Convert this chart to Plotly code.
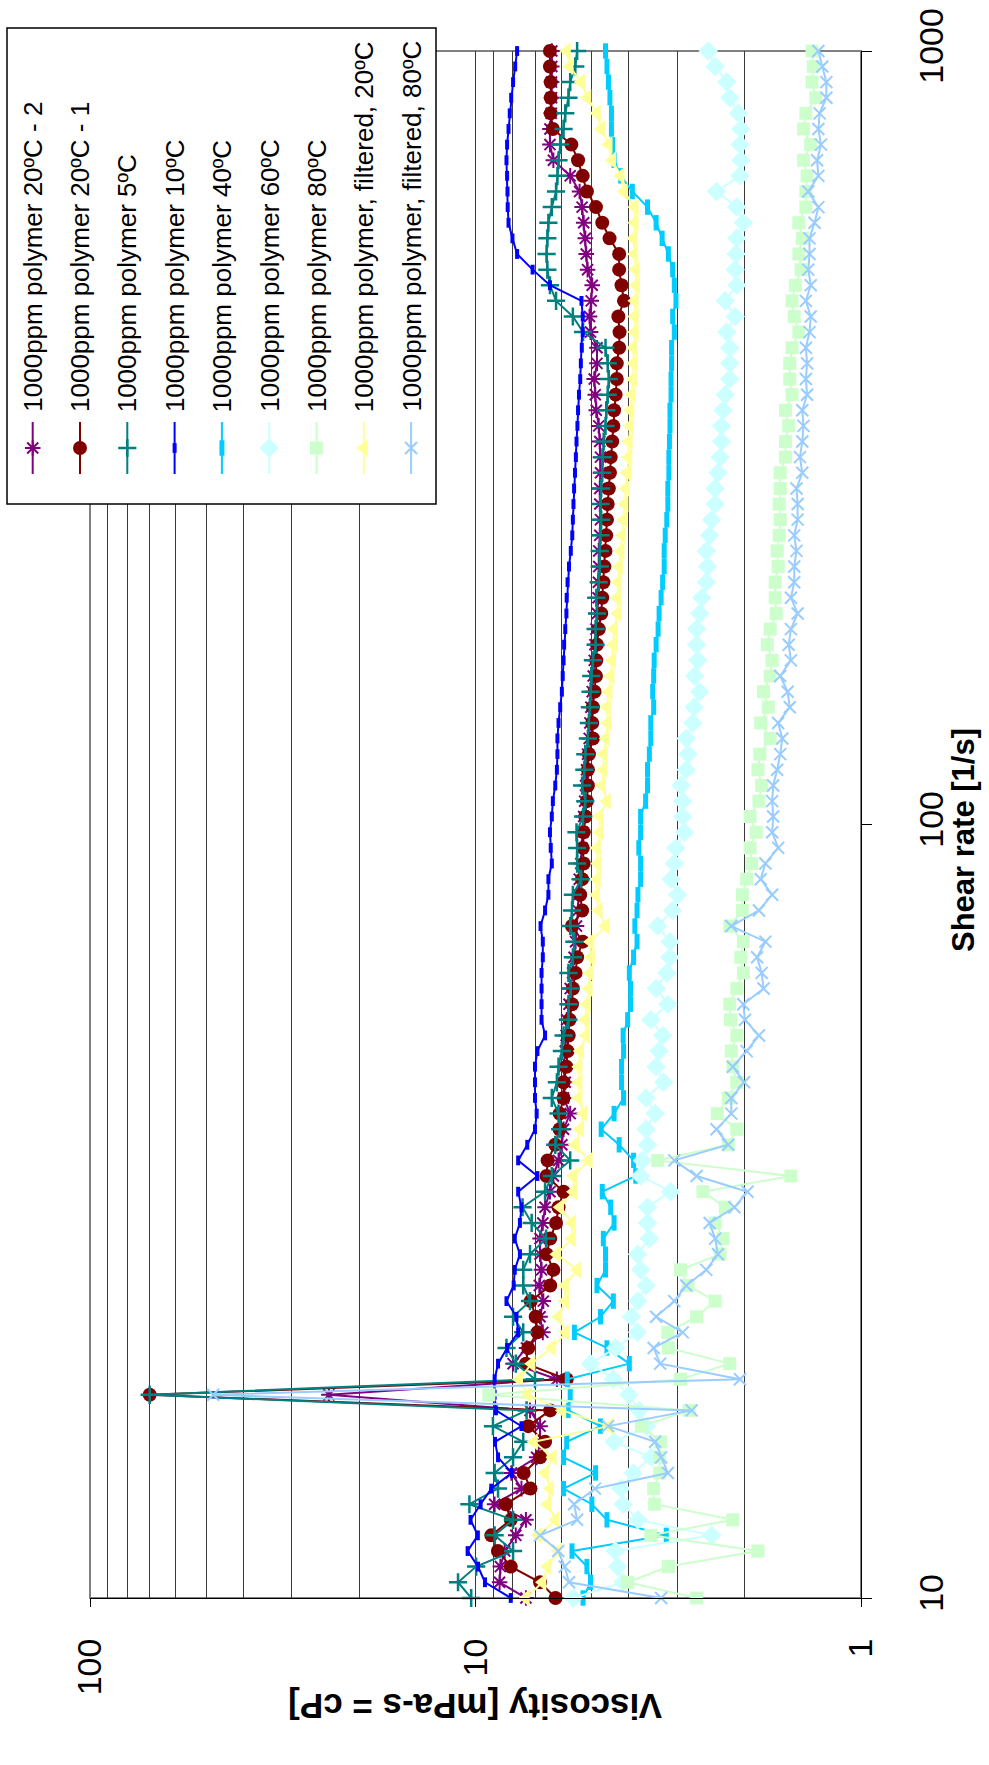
import plotly.graph_objects as go

# Shear rate steps of the rheometer sweep [1/s]
shear_rate = [
    10.0, 10.48, 10.98, 11.5, 12.05, 12.62, 13.22, 13.85, 14.51, 15.2,
    15.92, 16.68, 17.48, 18.31, 19.18, 20.09, 21.05, 22.05, 23.1, 24.2,
    25.35, 26.56, 27.83, 29.15, 30.54, 32.0, 33.52, 35.12, 36.79, 38.54,
    40.37, 42.29, 44.31, 46.42, 48.63, 50.94, 53.37, 55.91, 58.57, 61.36,
    64.29, 67.35, 70.56, 73.91, 77.43, 81.12, 84.98, 89.03, 93.27, 97.72,
    102.4, 107.2, 112.3, 117.7, 123.3, 129.2, 135.3, 141.8, 148.5, 155.6,
    163.0, 170.8, 178.9, 187.4, 196.4, 205.7, 215.5, 225.8, 236.5, 247.8,
    259.6, 271.9, 284.9, 298.5, 312.7, 327.6, 343.2, 359.5, 376.6, 394.6,
    413.4, 433.1, 453.7, 475.3, 497.9, 521.6, 546.5, 572.5, 599.7, 628.3,
    658.2, 689.6, 722.4, 756.8, 792.9, 830.6, 870.2, 911.6, 955.0, 1000.0,
]

# Viscosity [mPa-s] for each sample
visc_20C_2 = [
    7.4, 8.66, 8.62, 8.4, 7.86, 7.4, 8.92, 7.6, 8.07, 6.94,
    6.8, 6.8, 7.22, 24.0, 6.15, 7.99, 7.37, 6.69, 6.8, 6.67,
    6.83, 6.74, 6.8, 6.8, 6.69, 6.6, 6.41, 6.28, 6.09, 5.97,
    5.91, 5.68, 5.91, 5.85, 5.9, 5.85, 5.82, 5.8, 5.72, 5.68,
    5.6, 5.55, 5.5, 5.47, 5.42, 5.4, 5.38, 5.33, 5.3, 5.28,
    5.24, 5.21, 5.18, 5.15, 5.12, 5.07, 5.05, 5.02, 4.98, 4.95,
    4.92, 4.9, 4.87, 4.83, 4.81, 4.8, 4.79, 4.79, 4.76, 4.74,
    4.76, 4.76, 4.74, 4.74, 4.76, 4.79, 4.86, 4.89, 4.92, 4.84,
    4.84, 5.03, 5.06, 5.01, 4.98, 5.12, 5.16, 5.19, 5.24, 5.29,
    5.37, 5.68, 6.28, 6.41, 6.41, 6.36, 6.35, 6.35, 6.34, 6.34,
]
visc_20C_1 = [
    6.2, 6.8, 8.1, 8.75, 9.1, 8.1, 8.35, 7.2, 7.5, 6.8,
    6.6, 7.3, 6.4, 70.0, 5.8, 7.4, 7.3, 6.91, 6.98, 7.19,
    6.4, 6.28, 6.54, 6.4, 6.18, 6.09, 5.91, 6.54, 6.5, 6.21,
    6.05, 6.05, 5.91, 5.91, 5.81, 5.77, 5.73, 5.7, 5.62, 5.59,
    5.5, 5.45, 5.27, 5.62, 5.29, 5.35, 5.29, 5.24, 5.27, 5.24,
    5.19, 5.14, 5.11, 5.11, 5.08, 4.96, 4.98, 4.96, 4.91, 4.87,
    4.86, 4.84, 4.79, 4.72, 4.69, 4.66, 4.63, 4.6, 4.58, 4.56,
    4.54, 4.51, 4.48, 4.46, 4.42, 4.39, 4.37, 4.33, 4.3, 4.3,
    4.24, 4.23, 4.26, 4.12, 4.18, 4.24, 4.24, 4.49, 4.69, 4.87,
    5.14, 5.27, 5.42, 5.64, 6.3, 6.38, 6.38, 6.38, 6.41, 6.41,
]
visc_5C = [
    10.26, 11.1, 9.96, 7.99, 8.92, 7.99, 10.37, 8.74, 8.92, 7.99,
    7.52, 9.01, 7.37, 70.0, 7.01, 7.86, 8.31, 7.52, 7.99, 7.22,
    7.52, 7.52, 7.22, 6.56, 7.15, 7.55, 6.6, 6.34, 5.68, 6.21,
    6.03, 6.09, 6.34, 6.15, 6.09, 5.97, 5.91, 5.74, 5.74, 5.66,
    5.74, 5.59, 5.54, 5.68, 5.62, 5.59, 5.32, 5.45, 5.45, 5.47,
    5.26, 5.19, 5.29, 5.22, 5.19, 5.11, 5.08, 5.05, 5.03, 5.01,
    4.96, 4.88, 4.88, 4.84, 4.86, 4.79, 4.76, 4.76, 4.74, 4.72,
    4.74, 4.72, 4.69, 4.68, 4.65, 4.6, 4.58, 4.54, 4.51, 4.54,
    4.6, 5.26, 5.59, 6.18, 6.41, 6.51, 6.54, 6.51, 6.47, 6.34,
    6.18, 6.13, 6.09, 6.03, 5.91, 5.85, 5.74, 5.68, 5.51, 5.45,
]
visc_10C = [
    8.1, 9.45, 9.85, 10.48, 9.86, 10.3, 9.7, 9.1, 8.05, 8.74,
    8.9, 7.6, 8.85, 8.92, 8.92, 8.74, 8.28, 7.75, 7.83, 8.31,
    7.96, 7.91, 7.67, 7.91, 7.67, 7.6, 7.75, 6.91, 7.75, 7.34,
    7.01, 6.94, 7.01, 7.01, 7.01, 6.91, 6.6, 6.74, 6.74, 6.74,
    6.74, 6.69, 6.69, 6.78, 6.6, 6.47, 6.47, 6.34, 6.38, 6.41,
    6.34, 6.3, 6.21, 6.15, 6.13, 6.13, 6.09, 6.03, 5.97, 5.94,
    5.91, 5.89, 5.85, 5.81, 5.8, 5.77, 5.72, 5.66, 5.61, 5.59,
    5.57, 5.55, 5.52, 5.49, 5.47, 5.44, 5.42, 5.39, 5.35, 5.33,
    5.3, 5.27, 5.27, 5.31, 6.41, 7.11, 7.8, 8.02, 8.21, 8.25,
    8.26, 8.28, 8.31, 8.28, 8.21, 8.15, 8.08, 7.99, 7.89, 7.8,
]
visc_40C = [
    5.26, 5.03, 5.14, 5.62, 3.2, 4.56, 4.99, 5.91, 4.88, 5.91,
    5.8, 4.74, 5.75, 5.68, 5.78, 3.99, 4.56, 5.54, 4.74, 4.39,
    4.84, 4.6, 4.6, 4.66, 4.37, 4.46, 4.69, 3.84, 3.89, 4.24,
    4.72, 4.37, 4.13, 4.18, 4.18, 4.13, 4.14, 4.03, 3.96, 3.96,
    3.99, 3.89, 3.81, 3.86, 3.81, 3.79, 3.73, 3.73, 3.77, 3.73,
    3.73, 3.62, 3.58, 3.58, 3.54, 3.51, 3.51, 3.45, 3.47, 3.45,
    3.44, 3.4, 3.36, 3.34, 3.3, 3.27, 3.24, 3.24, 3.22, 3.19,
    3.17, 3.17, 3.15, 3.15, 3.14, 3.13, 3.13, 3.11, 3.11, 3.1,
    3.1, 3.05, 3.08, 3.02, 3.05, 3.08, 3.16, 3.28, 3.4, 3.58,
    3.92, 4.2, 4.37, 4.41, 4.44, 4.44, 4.48, 4.52, 4.56, 4.6,
]
visc_60C = [
    5.58, 4.14, 4.28, 4.34, 2.44, 3.79, 4.14, 4.2, 3.9, 3.5,
    4.37, 3.6, 3.76, 4.0, 4.39, 5.03, 4.33, 3.8, 3.94, 3.79,
    3.61, 3.73, 3.8, 3.54, 3.58, 3.58, 3.12, 3.73, 3.69, 3.58,
    3.61, 3.42, 3.61, 3.25, 3.4, 3.34, 3.27, 3.51, 3.17, 3.4,
    3.19, 3.13, 3.13, 3.37, 3.08, 2.99, 3.11, 3.05, 3.02, 2.87,
    2.9, 2.9, 2.93, 2.84, 2.81, 2.84, 2.73, 2.71, 2.62, 2.7,
    2.65, 2.67, 2.67, 2.62, 2.59, 2.52, 2.5, 2.52, 2.47, 2.44,
    2.39, 2.39, 2.35, 2.32, 2.3, 2.3, 2.28, 2.25, 2.19, 2.19,
    2.19, 2.23, 2.12, 2.25, 2.1, 2.12, 2.11, 2.1, 2.02, 2.1,
    2.37, 2.06, 2.05, 2.06, 2.05, 2.08, 2.19, 2.23, 2.39, 2.49,
]
visc_80C = [
    2.67, 4.03, 3.16, 1.85, 3.51, 2.15, 3.43, 3.45, 3.33, 3.33,
    3.31, 3.71, 2.79, 9.23, 2.94, 2.19, 3.16, 3.17, 2.67, 2.39,
    2.81, 2.94, 2.32, 2.28, 2.39, 2.25, 2.57, 1.52, 3.37, 2.21,
    2.1, 2.36, 2.21, 2.1, 2.15, 2.17, 2.1, 2.18, 2.19, 2.1,
    2.02, 2.05, 2.02, 2.19, 2.03, 2.03, 1.98, 1.92, 1.94, 1.87,
    1.94, 1.84, 1.81, 1.85, 1.83, 1.72, 1.82, 1.74, 1.79, 1.72,
    1.7, 1.75, 1.72, 1.66, 1.67, 1.67, 1.64, 1.65, 1.63, 1.62,
    1.63, 1.62, 1.62, 1.57, 1.57, 1.54, 1.57, 1.51, 1.53, 1.53,
    1.51, 1.45, 1.49, 1.51, 1.48, 1.43, 1.45, 1.42, 1.45, 1.39,
    1.39, 1.38, 1.41, 1.35, 1.41, 1.39, 1.31, 1.34, 1.33, 1.34,
]
visc_f20C = [
    7.4, 6.7, 6.5, 6.1, 6.87, 6.2, 6.5, 6.4, 6.6, 6.3,
    7.05, 4.5, 5.95, 7.3, 7.7, 7.15, 6.34, 5.82, 6.09, 5.85,
    5.85, 5.45, 6.15, 5.62, 5.62, 6.03, 5.57, 5.57, 5.08, 5.51,
    5.35, 5.24, 5.4, 5.4, 5.4, 5.35, 5.16, 5.19, 5.14, 5.08,
    5.05, 5.01, 5.03, 4.6, 4.79, 4.86, 4.84, 4.82, 4.84, 4.76,
    4.76, 4.56, 4.69, 4.65, 4.65, 4.58, 4.54, 4.56, 4.51, 4.46,
    4.42, 4.39, 4.37, 4.28, 4.28, 4.27, 4.24, 4.2, 4.16, 4.13,
    4.1, 4.07, 4.04, 4.01, 4.0, 3.97, 3.96, 3.93, 3.9, 3.89,
    3.89, 3.86, 3.86, 3.86, 3.83, 3.84, 3.87, 3.89, 3.86, 3.86,
    4.12, 4.2, 4.42, 4.51, 4.72, 4.84, 5.12, 5.32, 5.7, 5.79,
]
visc_f80C = [
    3.3, 5.72, 5.87, 6.1, 6.8, 5.45, 5.55, 4.9, 3.17, 3.3,
    3.42, 4.53, 2.75, 47.9, 2.06, 3.32, 3.45, 2.9, 3.4, 3.05,
    2.84, 2.52, 2.35, 2.39, 2.47, 2.13, 1.97, 2.67, 3.05, 2.21,
    2.37, 2.17, 2.17, 2.01, 2.15, 1.98, 1.84, 2.0, 2.02, 1.79,
    1.81, 1.86, 1.77, 2.17, 1.84, 1.7, 1.82, 1.77, 1.64, 1.7,
    1.69, 1.7, 1.69, 1.65, 1.62, 1.6, 1.64, 1.53, 1.55, 1.62,
    1.52, 1.54, 1.52, 1.46, 1.52, 1.49, 1.49, 1.47, 1.49, 1.46,
    1.46, 1.47, 1.42, 1.44, 1.42, 1.41, 1.42, 1.38, 1.39, 1.38,
    1.39, 1.36, 1.35, 1.39, 1.35, 1.37, 1.36, 1.36, 1.32, 1.29,
    1.37, 1.29, 1.3, 1.27, 1.29, 1.28, 1.23, 1.23, 1.26, 1.29,
]

series_names = [
    "1000ppm polymer 20ºC - 2",
    "1000ppm polymer 20ºC - 1",
    "1000ppm polymer 5ºC",
    "1000ppm polymer 10ºC",
    "1000ppm polymer 40ºC",
    "1000ppm polymer 60ºC",
    "1000ppm polymer 80ºC",
    "1000ppm polymer, filtered, 20ºC",
    "1000ppm polymer, filtered, 80ºC",
]
series_values = [visc_20C_2, visc_20C_1, visc_5C, visc_10C, visc_40C,
                 visc_60C, visc_80C, visc_f20C, visc_f80C]

viscosity_ticks = [1, 10, 100]
shear_ticks = [10, 100, 1000]
viscosity_minor = [2, 3, 4, 5, 6, 7, 8, 9, 20, 30, 40, 50, 60, 70, 80, 90]

# Line / marker styling per series (Excel-like palette)
styles = [
    dict(color="#800080", symbol="asterisk-open", size=13, lw=2.0),
    dict(color="#800000", symbol="circle", size=14, lw=0),
    dict(color="#008080", symbol="cross-thin-open", size=13, lw=2.5),
    dict(color="#0000FF", symbol="line-ns-open", size=7, lw=4),
    dict(color="#00CCFF", symbol="line-ns-open", size=11, lw=5),
    dict(color="#CCFFFF", symbol="diamond", size=15, lw=0),
    dict(color="#CCFFCC", symbol="square", size=13, lw=0),
    dict(color="#FFFF99", symbol="triangle-left", size=15, lw=0),
    dict(color="#99CCFF", symbol="x-thin-open", size=12, lw=2.0),
]

W, H = 989, 1765
PX0, PX1 = 90, 861      # plot area, pixels from left
PY0, PY1 = 51, 1598     # plot area, pixels from top
FONT = "Liberation Sans, Arial, sans-serif"


def marker_of(st):
    return dict(symbol=st["symbol"], size=st["size"], color=st["color"],
                line=dict(color=st["color"], width=st["lw"]))


fig = go.Figure()

for name, vals, st in zip(series_names, series_values, styles):
    fig.add_trace(go.Scatter(
        x=vals, y=shear_rate, name=name, mode="lines+markers",
        line=dict(color=st["color"], width=2),
        marker=marker_of(st), cliponaxis=False, showlegend=False,
        xaxis="x", yaxis="y", hoverinfo="skip",
    ))

# ---- legend drawn on a full-figure pixel overlay ----
LEG_X0, LEG_X1, LEG_Y0, LEG_Y1 = 7, 436, 28, 504
col_x0, col_dx = 32.7, 47.3
sample_top, sample_mid, sample_bot = 422, 448, 474
text_base = 414

for k, (name, st) in enumerate(zip(series_names, styles)):
    cx = col_x0 + col_dx * k
    fig.add_trace(go.Scatter(
        x=[cx, cx], y=[sample_top, sample_bot], mode="lines",
        line=dict(color=st["color"], width=2), showlegend=False,
        xaxis="x2", yaxis="y2", hoverinfo="skip",
    ))
    fig.add_trace(go.Scatter(
        x=[cx], y=[sample_mid], mode="markers", marker=marker_of(st),
        showlegend=False, xaxis="x2", yaxis="y2", hoverinfo="skip",
        cliponaxis=False,
    ))
    fig.add_annotation(
        x=cx, y=text_base, xref="x2", yref="y2", text=name, showarrow=False,
        textangle=-90, xanchor="center", yanchor="bottom",
        font=dict(family=FONT, size=26, color="black"),
    )

fig.add_shape(type="rect", xref="x2", yref="y2",
              x0=LEG_X0, x1=LEG_X1, y0=LEG_Y0, y1=LEG_Y1,
              fillcolor="white", line=dict(color="black", width=1.5),
              layer="below")

# plot-area frame
fig.add_shape(type="rect", xref="x domain", yref="y domain",
              x0=0, x1=1, y0=0, y1=1, line=dict(color="#808080", width=2),
              layer="below")

# axis titles
fig.add_annotation(
    x=963, y=840, xref="x2", yref="y2",
    text="<b>Shear rate [1/s]</b>", showarrow=False, textangle=-90,
    xanchor="center", yanchor="middle",
    font=dict(family=FONT, size=31, color="black"),
)
fig.add_annotation(
    x=(PX0 + PX1) / 2, y=1707, xref="x2", yref="y2",
    text="<b>Viscosity [mPa-s = cP]</b>", showarrow=False, textangle=180,
    xanchor="center", yanchor="middle",
    font=dict(family=FONT, size=35, color="black"),
)

grid_col = "#3a3a3a"
fig.update_layout(
    width=W, height=H, autosize=False,
    margin=dict(l=0, r=0, t=0, b=0, pad=0),
    paper_bgcolor="white", plot_bgcolor="rgba(0,0,0,0)",
    font=dict(family=FONT, color="black"),
    showlegend=False,
    xaxis=dict(
        type="log", range=[2, 0], domain=[PX0 / W, PX1 / W], anchor="y",
        tickmode="array", tickvals=viscosity_ticks,
        ticktext=[str(v) for v in viscosity_ticks],
        tickangle=-90, ticks="outside", ticklen=8, tickwidth=1,
        tickcolor="black", tickfont=dict(family=FONT, size=34, color="black"),
        ticklabelstandoff=18,
        showline=True, linecolor="black", linewidth=1, mirror=False,
        showgrid=True, gridcolor=grid_col, gridwidth=1,
        minor=dict(tickvals=viscosity_minor, showgrid=True,
                   gridcolor=grid_col, gridwidth=1, ticks=""),
        zeroline=False, automargin=False, fixedrange=True,
    ),
    yaxis=dict(
        type="log", range=[1, 3],
        domain=[1 - PY1 / H, 1 - PY0 / H], anchor="x", side="right",
        tickmode="array", tickvals=shear_ticks,
        ticktext=[str(v) for v in shear_ticks],
        tickangle=-90, ticks="outside", ticklen=10, tickwidth=1,
        tickcolor="black", tickfont=dict(family=FONT, size=34, color="black"),
        ticklabelstandoff=30,
        showline=True, linecolor="black", linewidth=1, mirror=False,
        showgrid=False, zeroline=False, automargin=False, fixedrange=True,
    ),
    xaxis2=dict(domain=[0, 1], range=[0, W], anchor="y2", visible=False,
                fixedrange=True),
    yaxis2=dict(domain=[0, 1], range=[H, 0], anchor="x2", visible=False,
                fixedrange=True),
)

fig.write_html("out.html")
